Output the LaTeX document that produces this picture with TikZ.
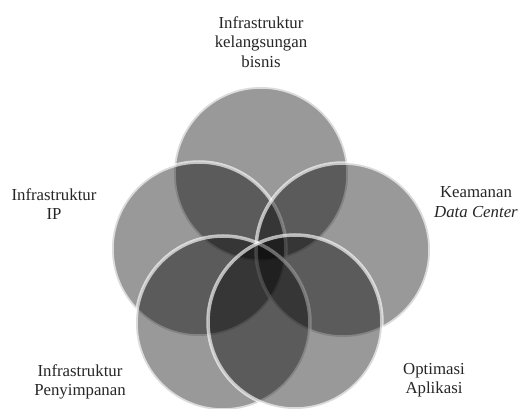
\documentclass[tikz,border=0pt]{standalone}
\usepackage{fontspec}
\setmainfont{Liberation Serif}
\begin{document}
\begin{tikzpicture}[x=1pt,y=-1pt,
  petal/.style={fill=black,fill opacity=0.4},
  rim/.style={draw=white,draw opacity=0.65,line width=3.5pt},
  caption/.style={align=center,inner sep=0pt,text=black!85,
    font=\fontsize{16.8}{19.5}\selectfont}]
  \useasboundingbox[fill=white] (0,0) rectangle (520,409);
  % five overlapping circles, drawn back to front
  \foreach \name/\cx/\cy in {ctop/261/174, cleft/199/249, cright/343/250,
                             cbl/223/323, cbr/295/322}{
    \coordinate (\name) at (\cx,\cy);
    \fill[petal] (\name) circle[radius=87];
    \draw[rim] (\name) circle[radius=87];
  }
  % labels
  \node[caption] (lbltop) at (261,42) {Infrastruktur\\kelangsungan\\bisnis};
  \node[caption] (lblleft) at (54,204) {Infrastruktur\\IP};
  \node[caption] (lblright) at (476,202) {Keamanan\\\textit{Data Center}};
  \node[caption] (lblbl) at (80,382) {Infrastruktur\\Penyimpanan};
  \node[caption] (lblbr) at (434,380) {Optimasi\\Aplikasi};
\end{tikzpicture}
\end{document}
